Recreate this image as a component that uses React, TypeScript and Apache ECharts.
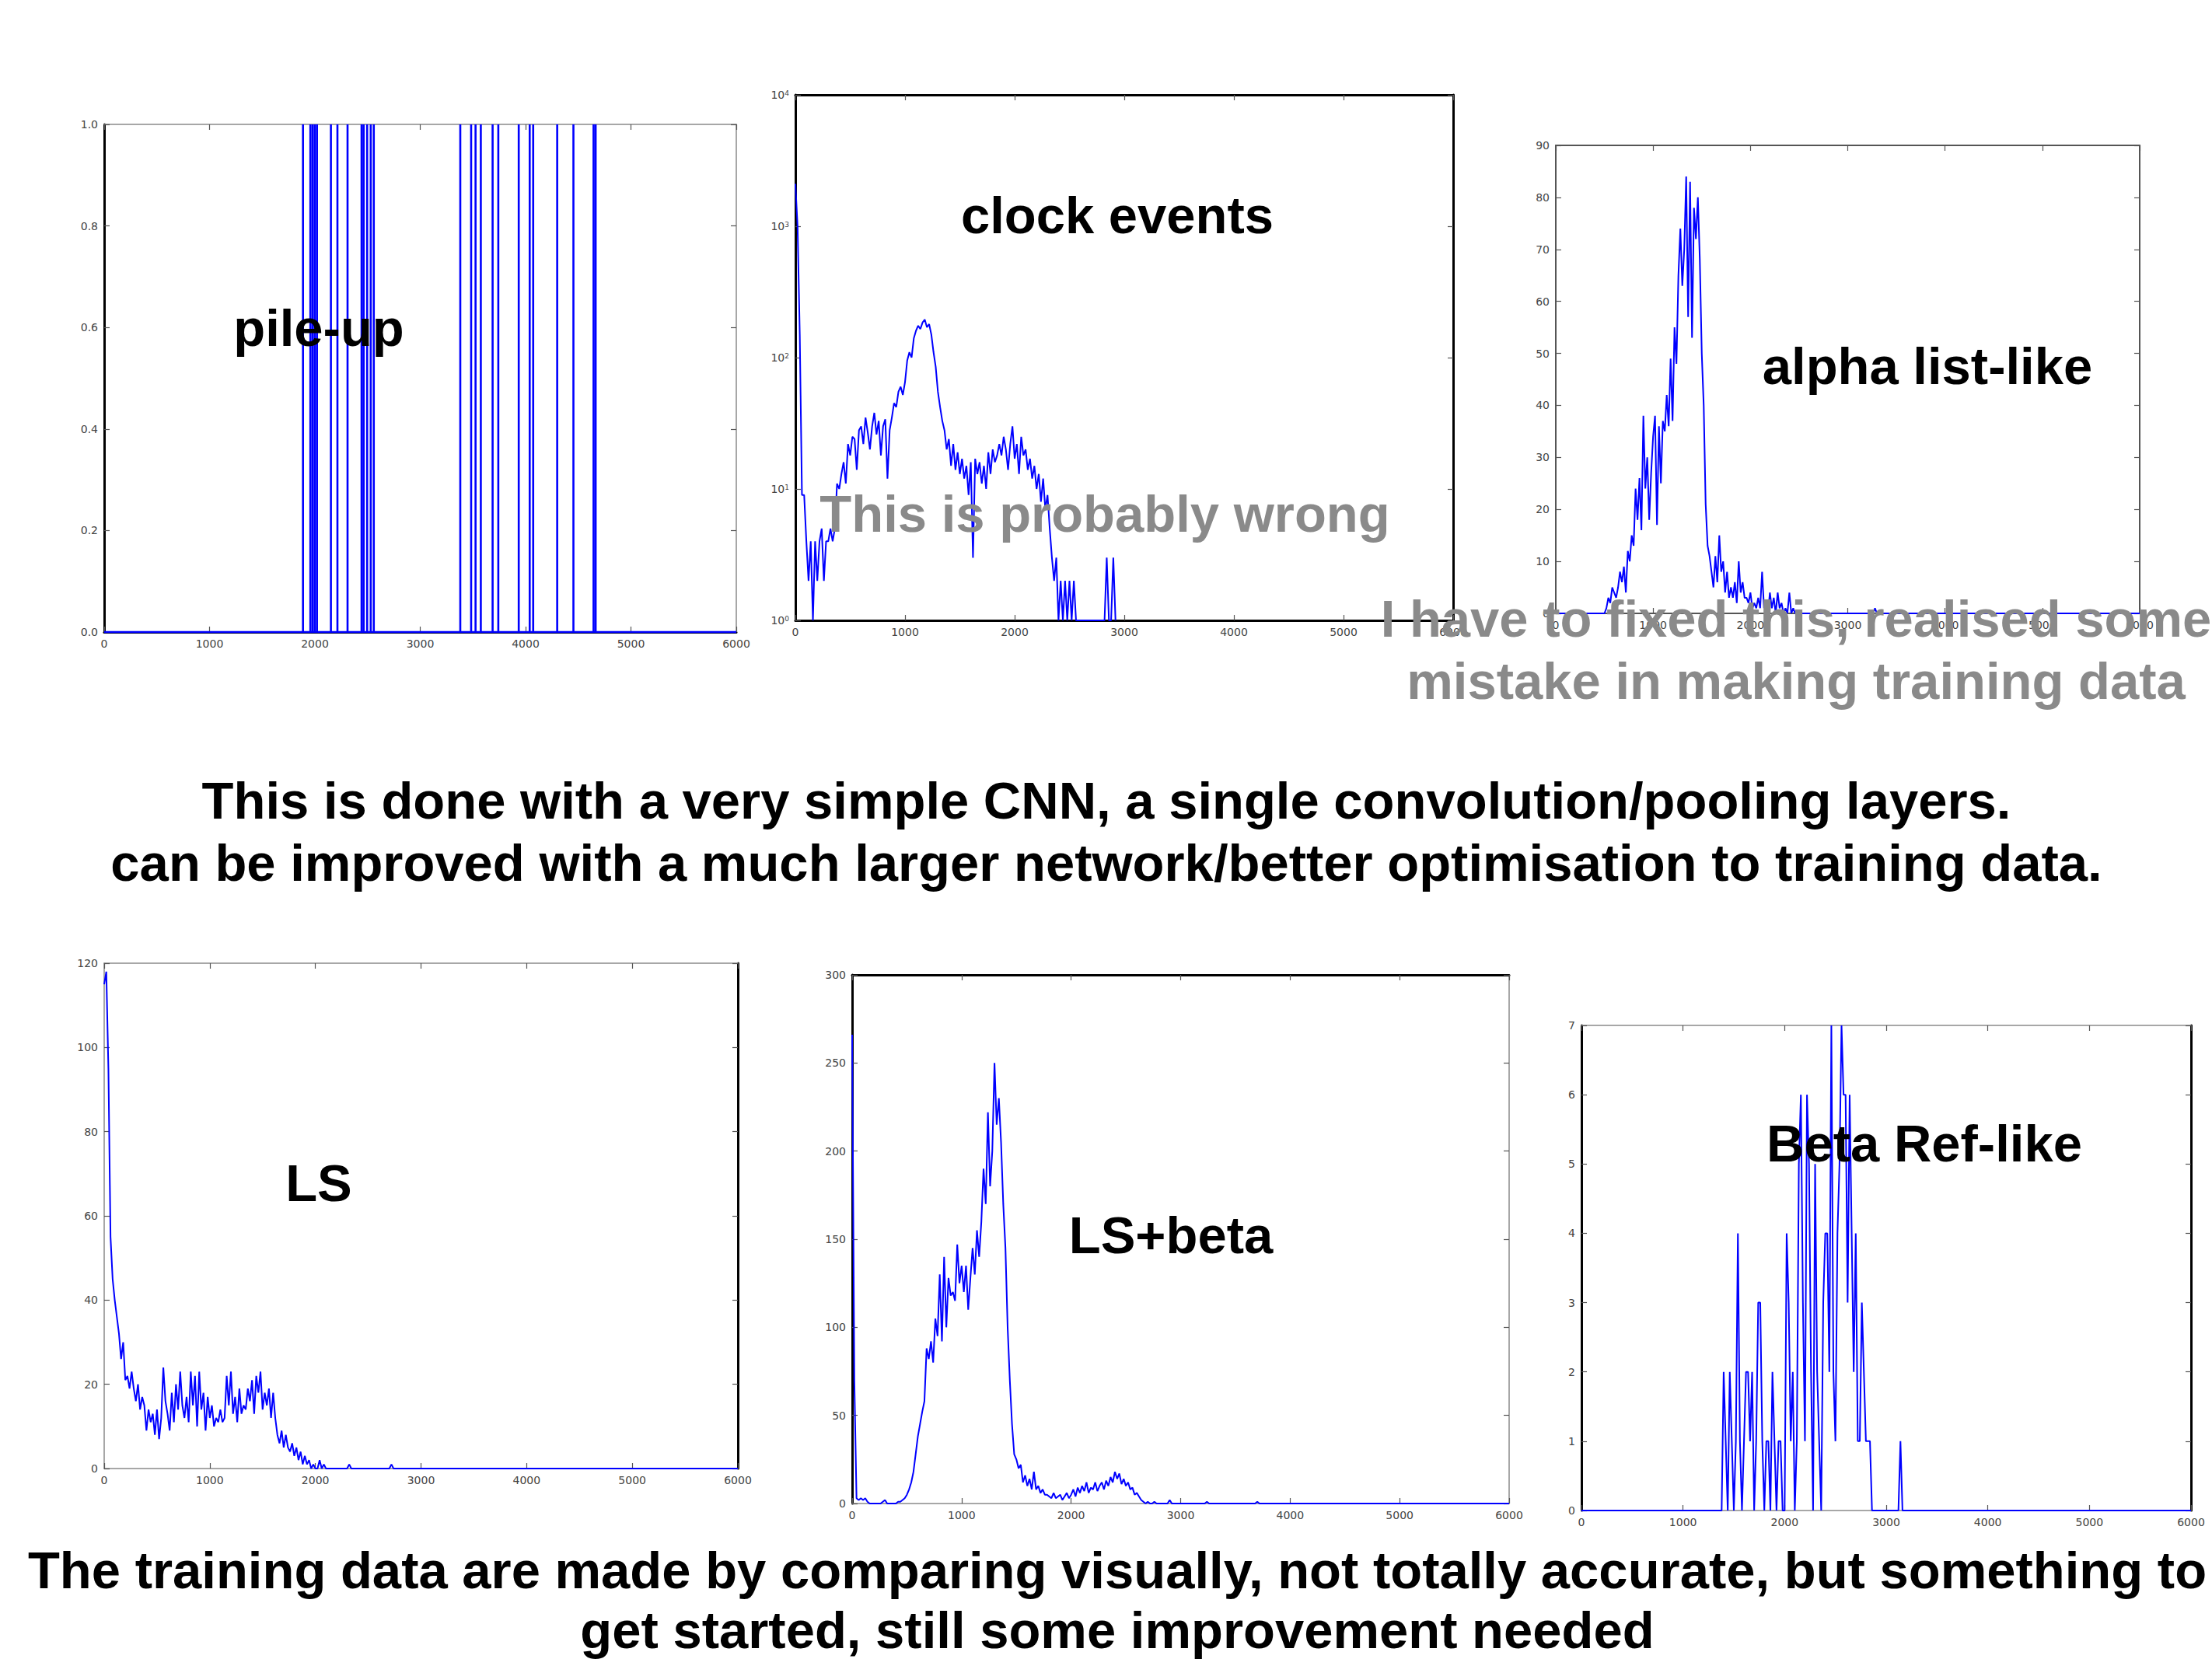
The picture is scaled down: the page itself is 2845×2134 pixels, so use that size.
import React, { useEffect, useRef } from "react";
import * as echarts from "echarts";

const W = 2845;
const H = 2134;

// ---------- DATA ----------
const xTicks = [0, 1000, 2000, 3000, 4000, 5000, 6000];

// Panel 1: pile-up (positions of spikes of height 1)
const pileUpSpikes = [1887, 1957, 1978, 1999, 2020, 2152, 2214, 2310, 2443, 2463, 2496, 2530, 2559, 3380, 3483, 3525, 3575, 3687, 3741, 3935, 4039, 4072, 4300, 4454, 4645, 4665];
const pileUpHeight = 1;

// Panel 2: clock events (log scale), bins of 20 starting at 0
const clockStart = 0;
const clockBin = 20;
const clockCounts = [
  2100, 1000, 150, 9, 9, 4, 2, 4, 1, 4, 2, 4, 5, 2, 4, 4, 5, 4, 5, 11,
  10, 13, 16, 11, 22, 18, 25, 24, 14, 28, 30, 22, 35, 27, 20, 30, 38, 26, 33, 18,
  30, 34, 12, 28, 35, 45, 42, 55, 60, 52, 65, 95, 110, 100, 140, 160, 175, 165, 185, 195,
  170, 180, 150, 110, 85, 55, 42, 33, 28, 20, 24, 15, 22, 14, 19, 13, 17, 12, 15, 9,
  16, 3, 17, 13, 16, 11, 15, 10, 19, 13, 20, 16, 18, 22, 18, 25, 20, 14, 22, 30,
  17, 22, 13, 25, 18, 20, 14, 17, 12, 15, 10, 13, 8, 12, 7, 9, 5, 3, 2, 3,
  1, 2, 1, 2, 1, 2, 1, 2, 1, 1, 1, 1, 1, 1, 1, 1, 1, 1, 1, 1,
  1, 1, 3, 1, 1, 3, 1
];

// Panel 3: alpha list-like, bins of 20 starting at 500
const alphaStart = 500;
const alphaBin = 20;
const alphaCounts = [
  0, 1, 3, 2, 5, 4, 3, 5, 8, 6, 9, 4, 12, 10, 15, 13, 24, 18, 26, 16,
  38, 24, 30, 18, 27, 34, 38, 17, 36, 25, 37, 35, 42, 36, 49, 37, 55, 48, 65, 74,
  63, 70, 84, 57, 83, 53, 78, 72, 80, 68, 50, 40, 21, 13, 11, 8, 5, 11, 6, 15,
  8, 10, 4, 8, 3, 5, 3, 6, 2, 10, 4, 6, 3, 3, 2, 4, 1, 2, 1, 3,
  1, 8, 1, 2, 0, 4, 1, 3, 0, 4, 1, 2, 0, 1, 0, 4, 0, 1, 0, 0,
  0, 0, 0, 0, 0, 0, 0, 0, 0, 0, 0, 0, 0, 0, 0, 0, 0, 0, 0, 0,
  0, 0, 0, 0, 0, 0, 0, 0, 0, 0, 0, 0, 0, 0, 0, 0, 0, 0, 0, 1,
  0
];

// Panel 4: LS, bins of 20 starting at 0
const lsStart = 0;
const lsBin = 20;
const lsCounts = [
  115, 118, 95, 55, 45, 40, 36, 32, 26, 30, 21, 22, 19, 23, 19, 16, 20, 14, 17, 15,
  9, 14, 11, 13, 8, 14, 7, 12, 24, 16, 13, 9, 18, 11, 20, 14, 23, 15, 12, 17,
  11, 23, 15, 22, 10, 23, 14, 18, 9, 17, 12, 15, 10, 12, 11, 14, 11, 12, 22, 15,
  23, 13, 17, 11, 19, 13, 15, 14, 19, 16, 21, 13, 22, 18, 23, 14, 18, 15, 19, 12,
  18, 12, 8, 6, 9, 5, 8, 5, 4, 6, 3, 5, 2, 4, 1, 3, 1, 2, 0, 1,
  0, 0, 2, 0, 1, 0, 0, 0, 0, 0, 0, 0, 0, 0, 0, 0, 1, 0, 0, 0,
  0, 0, 0, 0, 0, 0, 0, 0, 0, 0, 0, 0, 0, 0, 0, 0, 1, 0
];

// Panel 5: LS+beta, bins of 20 starting at 0
const lsBetaStart = 0;
const lsBetaBin = 20;
const lsBetaCounts = [
  266, 70, 3, 2, 3, 2, 3, 1, 0, 0, 0, 0, 0, 0, 1, 2, 0, 0, 0, 0,
  0, 1, 1, 2, 3, 5, 8, 12, 18, 28, 38, 45, 52, 58, 88, 82, 92, 80, 105, 95,
  130, 92, 140, 100, 128, 118, 120, 115, 147, 125, 135, 120, 135, 110, 128, 145, 130, 155, 140, 160,
  190, 170, 222, 180, 200, 250, 215, 230, 205, 170, 145, 100, 70, 45, 28, 25, 20, 22, 12, 16,
  10, 14, 8, 18, 8, 10, 6, 8, 5, 5, 4, 3, 6, 3, 4, 5, 2, 4, 6, 3,
  5, 8, 4, 9, 6, 10, 7, 12, 6, 9, 8, 12, 7, 10, 12, 8, 13, 10, 15, 12,
  18, 14, 17, 11, 14, 10, 12, 8, 9, 5, 6, 4, 2, 1, 0, 1, 0, 0, 1, 0,
  0, 0, 0, 0, 0, 2, 0, 0, 0, 0, 0, 0, 0, 0, 0, 0, 0, 0, 0, 0,
  0, 0, 1, 0, 0, 0, 0, 0, 0, 0, 0, 0, 0, 0, 0, 0, 0, 0, 0, 0,
  0, 0, 0, 0, 0, 1, 0
];

// Panel 6: Beta Ref-like, bins of 20 starting at 1380
const betaStart = 1380;
const betaBin = 20;
const betaCounts = [
  0, 2, 1, 0, 2, 1, 0, 1, 4, 1, 0, 1, 2, 2, 1, 2, 0, 1, 3, 3,
  1, 0, 1, 1, 0, 2, 1, 0, 1, 1, 0, 0, 4, 3, 1, 2, 0, 1, 5, 6,
  3, 1, 6, 5, 2, 0, 5, 2, 1, 0, 3, 4, 4, 2, 7, 2, 1, 4, 5, 7,
  6, 6, 3, 6, 4, 2, 4, 1, 1, 3, 2, 1, 1, 1, 0, 0, 0, 0, 0, 0,
  0, 0, 0, 0, 0, 0, 0, 0, 1, 0
];

// ---------- TEXTS ----------
const annotations = [
  { text: "pile-up", x: 410, y: 421, gray: false },
  { text: "clock events", x: 1437, y: 276, gray: false },
  { text: "alpha list-like", x: 2479, y: 470, gray: false },
  { text: "This is probably wrong", x: 1421, y: 660, gray: true },
  { text: "I have to fixed this, realised some", x: 2310, y: 795, gray: true },
  { text: "mistake in making training data", x: 2310, y: 875, gray: true },
  { text: "This is done with a very simple CNN, a single convolution/pooling layers.", x: 1423, y: 1029, gray: false },
  { text: "can be improved with a much larger network/better optimisation to training data.", x: 1423, y: 1109, gray: false },
  { text: "LS", x: 410, y: 1521, gray: false },
  { text: "LS+beta", x: 1506, y: 1588, gray: false },
  { text: "Beta Ref-like", x: 2475, y: 1470, gray: false },
  { text: "The training data are made by comparing visually, not totally accurate, but something to", x: 1437, y: 2019, gray: false },
  { text: "get started, still some improvement needed", x: 1437, y: 2096, gray: false },
];

// ---------- LAYOUT ----------
type Side = { c: string; w: number };
type Panel = {
  left: number; top: number; width: number; height: number;
  yType: "value" | "log"; yMin: number; yMax: number; yInterval?: number; yDigits?: number;
  frame: { top: Side; right: Side; bottom: Side; left: Side };
  data: number[][];
};

const BLK: Side = { c: "#000", w: 3 };
const GRY: Side = { c: "#8a8a8a", w: 1.5 };
const DGR: Side = { c: "#555", w: 2 };

function binned(start: number, width: number, counts: number[]) {
  return counts.map((c, i) => [start + i * width, c]);
}

const X_MIN = xTicks[0];
const X_MAX = xTicks[xTicks.length - 1];

function pileUpData() {
  const pts: number[][] = [[X_MIN, 0]];
  pileUpSpikes.forEach((x) => {
    pts.push([x, 0], [x, pileUpHeight], [x, 0]);
  });
  pts.push([X_MAX, 0]);
  return pts;
}

const panels: Panel[] = [
  {
    left: 134, top: 160, width: 813, height: 653,
    yType: "value", yMin: 0, yMax: 1, yInterval: 0.2, yDigits: 1,
    frame: { top: GRY, right: GRY, bottom: BLK, left: BLK },
    data: pileUpData(),
  },
  {
    left: 1023, top: 122, width: 846, height: 676,
    yType: "log", yMin: 1, yMax: 10000,
    frame: { top: BLK, right: BLK, bottom: BLK, left: BLK },
    data: binned(clockStart, clockBin, clockCounts),
  },
  {
    left: 2001, top: 187, width: 751, height: 602,
    yType: "value", yMin: 0, yMax: 90, yInterval: 10,
    frame: { top: DGR, right: DGR, bottom: DGR, left: DGR },
    data: [[X_MIN, 0], ...binned(alphaStart, alphaBin, alphaCounts), [X_MAX, 0]],
  },
  {
    left: 134, top: 1239, width: 815, height: 650,
    yType: "value", yMin: 0, yMax: 120, yInterval: 20,
    frame: { top: GRY, right: BLK, bottom: GRY, left: GRY },
    data: [...binned(lsStart, lsBin, lsCounts), [X_MAX, 0]],
  },
  {
    left: 1096, top: 1254, width: 845, height: 680,
    yType: "value", yMin: 0, yMax: 300, yInterval: 50,
    frame: { top: BLK, right: GRY, bottom: GRY, left: BLK },
    data: [...binned(lsBetaStart, lsBetaBin, lsBetaCounts), [X_MAX, 0]],
  },
  {
    left: 2034, top: 1319, width: 784, height: 624,
    yType: "value", yMin: 0, yMax: 7, yInterval: 1,
    frame: { top: GRY, right: BLK, bottom: GRY, left: BLK },
    data: [[X_MIN, 0], ...binned(betaStart, betaBin, betaCounts), [X_MAX, 0]],
  },
];

const labelStyle = { fontSize: 14, color: "#444", fontFamily: "DejaVu Sans" };
const tickStyle = { show: true, inside: true, length: 7, lineStyle: { color: "#555", width: 1.2 } };

function buildOption() {
  const grid: any[] = [];
  const xAxis: any[] = [];
  const yAxis: any[] = [];
  const series: any[] = [];

  panels.forEach((p, i) => {
    grid.push({ left: p.left, top: p.top, width: p.width, height: p.height, show: false, containLabel: false });
    const xCommon = { type: "value", gridIndex: i, min: X_MIN, max: X_MAX, interval: 1000, splitLine: { show: false } };
    xAxis.push({
      ...xCommon, position: "bottom",
      axisLine: { show: true, onZero: false, lineStyle: { color: p.frame.bottom.c, width: p.frame.bottom.w } },
      axisTick: tickStyle,
      axisLabel: { ...labelStyle, margin: 8, showMaxLabel: true, showMinLabel: true, formatter: (v: number) => String(v) },
    });
    xAxis.push({
      ...xCommon, position: "top",
      axisLine: { show: true, onZero: false, lineStyle: { color: p.frame.top.c, width: p.frame.top.w } },
      axisTick: tickStyle,
      axisLabel: { show: false },
    });

    const yCommon: any = p.yType === "log"
      ? { type: "log", logBase: 10, gridIndex: i, min: p.yMin, max: p.yMax, splitLine: { show: false }, minorTick: { show: false } }
      : { type: "value", gridIndex: i, min: p.yMin, max: p.yMax, interval: p.yInterval, splitLine: { show: false } };

    const yLabel: any = p.yType === "log"
      ? {
          ...labelStyle, margin: 8,
          formatter: (v: number) => `{b|10}{s|${Math.round(Math.log10(v))}}`,
          rich: {
            b: { fontSize: 14, color: "#444", fontFamily: "DejaVu Sans" },
            s: { fontSize: 9, color: "#444", fontFamily: "DejaVu Sans", verticalAlign: "top", lineHeight: 14 },
          },
        }
      : {
          ...labelStyle, margin: 8,
          formatter: (v: number) => (p.yDigits ? v.toFixed(p.yDigits) : String(Math.round(v))),
        };

    yAxis.push({
      ...yCommon, position: "left",
      axisLine: { show: true, onZero: false, lineStyle: { color: p.frame.left.c, width: p.frame.left.w } },
      axisTick: tickStyle,
      axisLabel: yLabel,
    });
    yAxis.push({
      ...yCommon, position: "right",
      axisLine: { show: true, onZero: false, lineStyle: { color: p.frame.right.c, width: p.frame.right.w } },
      axisTick: tickStyle,
      axisLabel: { show: false },
    });

    series.push({
      type: "line",
      xAxisIndex: 2 * i,
      yAxisIndex: 2 * i,
      data: p.data,
      symbol: "none",
      showSymbol: false,
      clip: false,
      silent: true,
      z: 5,
      lineStyle: { color: "#0000ff", width: i === 0 ? 2.6 : 2 },
    });
  });

  const graphic = annotations.map((a) => ({
    type: "text",
    x: a.x,
    y: a.y,
    z: 100,
    silent: true,
    style: {
      text: a.text,
      font: "bold 67px 'Liberation Sans', Arial, Helvetica, sans-serif",
      fill: a.gray ? "#8a8a8a" : "#000000",
      align: "center",
      verticalAlign: "middle",
      textAlign: "center",
      textVerticalAlign: "middle",
    },
  }));

  return {
    animation: false,
    backgroundColor: "#ffffff",
    grid,
    xAxis,
    yAxis,
    series,
    graphic,
  };
}

export default function App() {
  const ref = useRef<HTMLDivElement>(null);
  useEffect(() => {
    if (!ref.current) return;
    const chart = echarts.init(ref.current, undefined, { renderer: "svg" });
    chart.setOption(buildOption() as any);
    return () => chart.dispose();
  }, []);
  return (
    <div
      ref={ref}
      style={{ position: "fixed", left: 0, top: 0, width: W, height: H, background: "#fff" }}
    />
  );
}
